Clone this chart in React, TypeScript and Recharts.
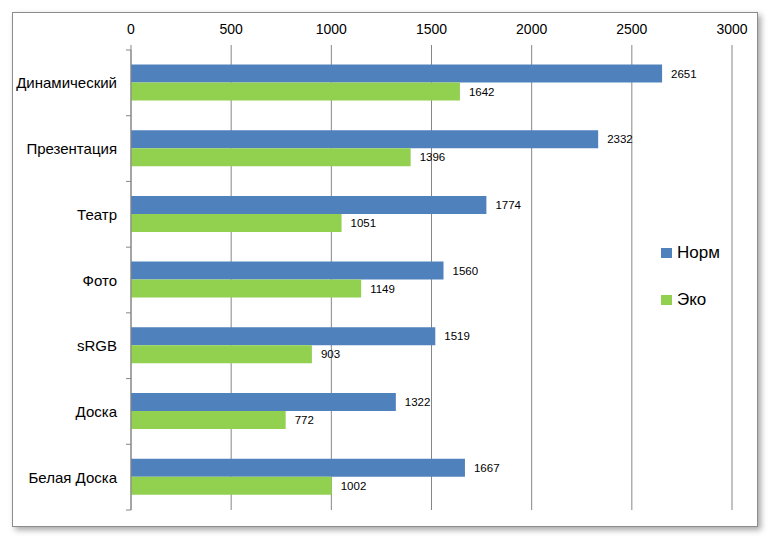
import React from 'react';
import { BarChart, Bar, XAxis, YAxis, CartesianGrid, LabelList, Legend } from 'recharts';

const categories = ['Динамический', 'Презентация', 'Театр', 'Фото', 'sRGB', 'Доска', 'Белая Доска'];
const normValues = [2651, 2332, 1774, 1560, 1519, 1322, 1667];
const ecoValues = [1642, 1396, 1051, 1149, 903, 772, 1002];
const xTicks = [0, 500, 1000, 1500, 2000, 2500, 3000];
const seriesNames = ['Норм', 'Эко'];
const seriesColors = ['#4F81BD', '#92D050'];

const data = categories.map((name, i) => ({ name, norm: normValues[i], eco: ecoValues[i] }));

const FONT = '"Liberation Sans", Arial, sans-serif';
const GRID = '#868686';
const PLOT_H = 460;
const BAND = PLOT_H / categories.length;

const CategoryTick = (props: any) => {
  const { x, y, payload, index } = props;
  const last = index === categories.length - 1;
  return (
    <g>
      <text x={x - 14} y={y} textAnchor="end" dominantBaseline="central" fontSize={15} fill="#000" fontFamily={FONT}>
        {payload.value}
      </text>
      <line x1={x - 5} x2={x} y1={y - BAND / 2} y2={y - BAND / 2} stroke={GRID} />
      {last && <line x1={x - 5} x2={x} y1={y + BAND / 2} y2={y + BAND / 2} stroke={GRID} />}
    </g>
  );
};

const LegendContent = () => (
  <div style={{ fontFamily: FONT }}>
    {seriesNames.map((n, i) => (
      <div key={n} style={{ display: 'flex', alignItems: 'center', height: 20, marginBottom: i === 0 ? 27 : 0 }}>
        <span style={{ display: 'inline-block', width: 11, height: 10, background: seriesColors[i], marginRight: 5 }} />
        <span style={{ fontSize: 17, color: '#000' }}>{n}</span>
      </div>
    ))}
  </div>
);

export default function App() {
  return (
    <div style={{ position: 'absolute', left: 0, top: 0, width: 782, height: 551, background: '#fff' }}>
      <div
        style={{
          position: 'absolute',
          left: 12,
          top: 12,
          width: 744,
          height: 513,
          border: '1px solid #8c8c8c',
          boxShadow: '3px 3px 6px rgba(0,0,0,0.35)',
          background: '#fff',
        }}
      />
      <div style={{ position: 'absolute', left: 0, top: 0 }}>
        <BarChart
          width={782}
          height={551}
          data={data}
          layout="vertical"
          margin={{ top: 0, right: 50, bottom: 41, left: 0 }}
          barCategoryGap="22%"
          barGap={0}
        >
          <CartesianGrid horizontal={false} stroke={GRID} />
          <XAxis
            type="number"
            orientation="top"
            domain={[0, 3000]}
            ticks={xTicks}
            height={50}
            axisLine={false}
            tickLine={{ stroke: GRID }}
            tickSize={5}
            tickMargin={11}
            tick={{ fill: '#000', fontSize: 14, fontFamily: FONT }}
            interval={0}
          />
          <YAxis
            type="category"
            dataKey="name"
            width={131}
            axisLine={{ stroke: GRID }}
            tickLine={false}
            tickSize={0}
            tickMargin={0}
            tick={<CategoryTick />}
            interval={0}
          />
          <Legend
            layout="vertical"
            align="center"
            verticalAlign="middle"
            wrapperStyle={{ left: 661, top: 243, width: 90 }}
            content={<LegendContent />}
          />
          <Bar dataKey="norm" name={seriesNames[0]} fill={seriesColors[0]} isAnimationActive={false}>
            <LabelList dataKey="norm" position="right" offset={9} fill="#000" fontSize={11.5} fontFamily={FONT} />
          </Bar>
          <Bar dataKey="eco" name={seriesNames[1]} fill={seriesColors[1]} isAnimationActive={false}>
            <LabelList dataKey="eco" position="right" offset={9} fill="#000" fontSize={11.5} fontFamily={FONT} />
          </Bar>
        </BarChart>
      </div>
    </div>
  );
}
